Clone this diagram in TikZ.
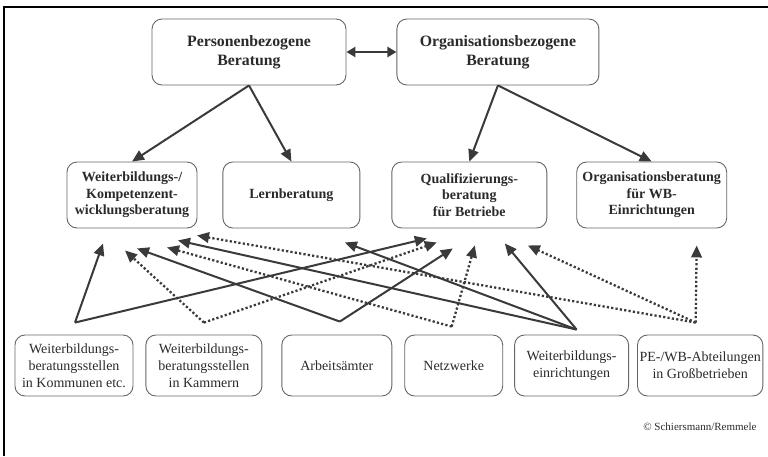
\documentclass[tikz,border=0pt]{standalone}
\usepackage{fontspec}
\setmainfont{Liberation Serif}
\usepackage{xcolor}
\usetikzlibrary{arrows.meta,positioning}
\definecolor{ink}{HTML}{2A2A2A}
\definecolor{edge}{HTML}{666666}
\definecolor{arrowc}{HTML}{3A3A3A}
\tikzset{
  box/.style={draw=edge, line width=0.9pt, rounded corners=10pt, align=center, text=ink, inner sep=2pt},
  topbox/.style={box, minimum height=66pt, font=\fontsize{15.8}{19}\selectfont\bfseries},
  midbox/.style={box, minimum height=66pt, font=\fontsize{14}{16.5}\selectfont\bfseries},
  basebox/.style={box, minimum height=61pt, font=\fontsize{14}{17}\selectfont},
  arr/.style={-{Triangle[length=12pt,width=10.5pt]}, line width=2pt, draw=arrowc},
  dotarr/.style={arr, line width=2.3pt, dash pattern=on 2.2pt off 2.2pt}
}

\begin{document}
\begin{tikzpicture}[x=1pt, y=-1pt]
  \useasboundingbox (0,0) rectangle (768,456);
  \draw[line width=2pt] (4,456) |- (768,7);

  % obere Ebene
  \node[topbox, minimum width=194pt] (pers) at (249,52) {Personenbezogene\\Beratung};
  \node[topbox, minimum width=202pt, right=50pt of pers] (orgb) {Organisationsbezogene\\Beratung};

  % mittlere Ebene
  \node[midbox, minimum width=130pt] (wkb) at (132,195) {Weiterbildungs-/\\Kompetenzent-\\wicklungsberatung};
  \node[midbox, minimum width=137pt, right=25pt of wkb] (lern) {Lernberatung};
  \node[midbox, minimum width=155pt, right=31pt of lern] (quali) {Qualifizierungs-\\beratung\\für Betriebe};
  \node[midbox, minimum width=150pt, right=29pt of quali] (orgwb) {Organisationsberatung\\für WB-\\Einrichtungen};

  % Anbieter
  \node[basebox, minimum width=118pt] (kom) at (74,365.5) {Weiterbildungs-\\beratungsstellen\\in Kommunen etc.};
  \node[basebox, minimum width=116pt, right=12pt of kom] (kam) {Weiterbildungs-\\beratungsstellen\\in Kammern};
  \node[basebox, minimum width=110pt, right=19pt of kam] (aa) {Arbeitsämter};
  \node[basebox, minimum width=98pt, right=12pt of aa] (netz) {Netzwerke};
  \node[basebox, minimum width=114pt, right=11pt of netz] (wbe) {Weiterbildungs-\\einrichtungen};
  \node[basebox, minimum width=125pt, right=8pt of wbe] (pe) {PE-/WB-Abteilungen\\in Großbetrieben};

  \node[anchor=east, text=ink, font=\fontsize{11}{13}\selectfont] (copy) at (760,427) {© Schiersmann/Remmele};

  \draw[arr, {Triangle[length=9pt,width=10pt]}-{Triangle[length=9pt,width=10pt]}, line width=2.4pt] (pers) -- (orgb);
  \draw[arr] (pers.south) -- (wkb.north);
  \draw[arr] (pers.south) -- (lern.north);
  \draw[arr] (orgb.south) -- (quali.north);
  \draw[arr] (orgb.south) -- (orgwb.north);

  % Sammelpunkte ueber den Anbietern
  \foreach \src/\dx/\dy in {kom/1/-12, kam/0/-12, aa/3/-13, netz/-2/-8, wbe/5/-5, pe/-4.5/-12}
    \coordinate (\src hub) at ([shift={(\dx,\dy)}]\src.north);

  % Pfeilspitzen unter den Beratungsformen
  \foreach \src/\dx/\dy in {kom/-29/15, kam/-7/22, aa/5/20, netz/35/19, wbe/46/12, pe/65/7}
    \coordinate (wkb-\src) at ([shift={(\dx,\dy)}]wkb.south);
  \coordinate (lern-wbe) at ([shift={(53.5,14)}]lern.south);
  \foreach \src/\dx/\dy in {kom/-42.5/10, kam/-32.5/14, aa/-16.5/20, netz/5.5/17, wbe/35.5/15, pe/58.5/17}
    \coordinate (quali-\src) at ([shift={(\dx,\dy)}]quali.south);
  \coordinate (orgwb-pe) at ([shift={(45,17)}]orgwb.south);

  \foreach \src/\dst in {kom/wkb, kom/quali, aa/wkb, aa/quali, wbe/wkb, wbe/lern, wbe/quali}
    \draw[arr] (\src hub) -- (\dst-\src);
  \foreach \src/\dst in {kam/wkb, kam/quali, netz/wkb, netz/quali, pe/wkb, pe/quali, pe/orgwb}
    \draw[dotarr] (\src hub) -- (\dst-\src);
\end{tikzpicture}
\end{document}
